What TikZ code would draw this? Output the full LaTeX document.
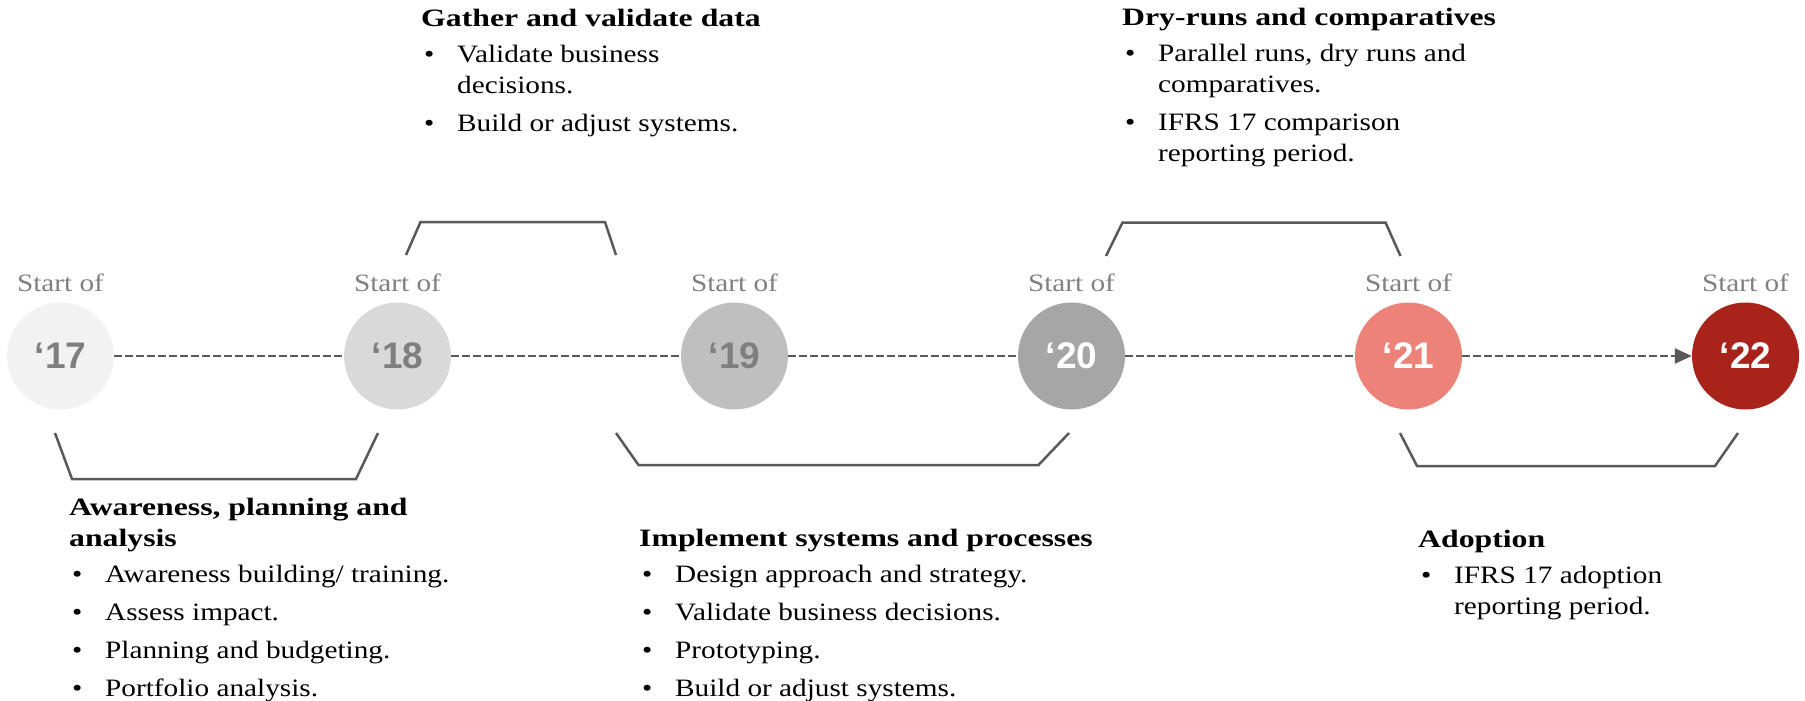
\documentclass[tikz,border=0pt]{standalone}
\usepackage{fontspec}
\setmainfont{Liberation Serif}[FakeStretch=1.17]
\newfontfamily\headfont{Liberation Serif}[FakeStretch=1.27]
\newfontfamily\yearfont{Liberation Sans}
\usetikzlibrary{arrows.meta}

\definecolor{ink}{HTML}{595959}
\definecolor{labelgray}{HTML}{808080}
\definecolor{yeargray}{HTML}{7F7F7F}
\definecolor{fill17}{HTML}{F2F2F2}
\definecolor{fill18}{HTML}{D9D9D9}
\definecolor{fill19}{HTML}{BFBFBF}
\definecolor{fill20}{HTML}{A6A6A6}
\definecolor{fill21}{HTML}{ED8278}
\definecolor{fill22}{HTML}{A8231A}

% bullet marker and hanging indent for wrapped lines
\newcommand\tlbullet{\makebox[36pt][l]{\hspace{3pt}\textbullet}}
\newcommand\tlindent{\hspace*{36pt}}
\newcommand\tlhead[1]{{\headfont\bfseries #1}}

\begin{document}
\begin{tikzpicture}[x=1pt,y=-1pt,
  year/.style={circle, minimum size=107pt, inner sep=0pt,
    font=\yearfont\bfseries\fontsize{37}{37}\selectfont},
  startlbl/.style={anchor=base, inner sep=0pt, text=labelgray,
    font=\fontsize{25}{31}\selectfont},
  block/.style={anchor=base west, inner sep=0pt,
    font=\fontsize{25}{31}\selectfont},
  timeline/.style={draw=ink, line width=2.4pt, dash pattern=on 7.5pt off 3.5pt},
  bracket/.style={draw=ink, line width=2.5pt, line join=miter}]
\useasboundingbox (0,0) rectangle (1805,701);

% year markers
\node[year, fill=fill17, text=yeargray] (c17) at (60.5,356)  {‘17};
\node[year, fill=fill18, text=yeargray] (c18) at (397.5,356) {‘18};
\node[year, fill=fill19, text=yeargray] (c19) at (734.5,356) {‘19};
\node[year, fill=fill20, text=white]    (c20) at (1071.5,356) {‘20};
\node[year, fill=fill21, text=white]    (c21) at (1408.5,356) {‘21};
\node[year, fill=fill22, text=white]    (c22) at (1745.5,356) {‘22};

% labels above the markers
\node[startlbl] (s17) at (60.5,291)   {Start of};
\node[startlbl] (s18) at (397.5,291)  {Start of};
\node[startlbl] (s19) at (734.5,291)  {Start of};
\node[startlbl] (s20) at (1071.5,291) {Start of};
\node[startlbl] (s21) at (1408.5,291) {Start of};
\node[startlbl] (s22) at (1745.5,291) {Start of};

% dashed timeline
\draw[timeline] (c17) -- (c18);
\draw[timeline] (c18) -- (c19);
\draw[timeline] (c19) -- (c20);
\draw[timeline] (c20) -- (c21);
\draw[timeline, -{Triangle[length=17pt,width=15pt]}] (c21) -- (c22);

% phase brackets
\draw[bracket] (55,433) -- (72,479) -- (356,479) -- (378,433);
\draw[bracket] (406,255) -- (420.5,222) -- (605,222) -- (616,255);
\draw[bracket] (616,433) -- (638.5,465) -- (1038.5,465) -- (1069,433);
\draw[bracket] (1106,256) -- (1122.5,222.5) -- (1385.5,222.5) -- (1400.5,256);
\draw[bracket] (1400,433) -- (1417,466) -- (1715,466) -- (1738,433);

% phase descriptions
\node[block] (gather) at (421,27) {\begin{tabular}[t]{@{}l@{}}
\tlhead{Gather and validate data}\\[5pt]
\tlbullet Validate business\\
\tlindent decisions.\\[6.5pt]
\tlbullet Build or adjust systems.
\end{tabular}};

\node[block] (dryruns) at (1122,26) {\begin{tabular}[t]{@{}l@{}}
\tlhead{Dry-runs and comparatives}\\[5pt]
\tlbullet Parallel runs, dry runs and\\
\tlindent comparatives.\\[6.5pt]
\tlbullet IFRS 17 comparison\\
\tlindent reporting period.
\end{tabular}};

\node[block] (aware) at (69,515) {\begin{tabular}[t]{@{}l@{}}
\tlhead{Awareness, planning and}\\
\tlhead{analysis}\\[5.5pt]
\tlbullet Awareness building/ training.\\[7pt]
\tlbullet Assess impact.\\[7pt]
\tlbullet Planning and budgeting.\\[7pt]
\tlbullet Portfolio analysis.
\end{tabular}};

\node[block] (implement) at (639,546) {\begin{tabular}[t]{@{}l@{}}
\tlhead{Implement systems and processes}\\[5.5pt]
\tlbullet Design approach and strategy.\\[7pt]
\tlbullet Validate business decisions.\\[7pt]
\tlbullet Prototyping.\\[7pt]
\tlbullet Build or adjust systems.
\end{tabular}};

\node[block] (adopt) at (1418,547) {\begin{tabular}[t]{@{}l@{}}
\tlhead{Adoption}\\[5.5pt]
\tlbullet IFRS 17 adoption\\
\tlindent reporting period.
\end{tabular}};
\end{tikzpicture}
\end{document}
